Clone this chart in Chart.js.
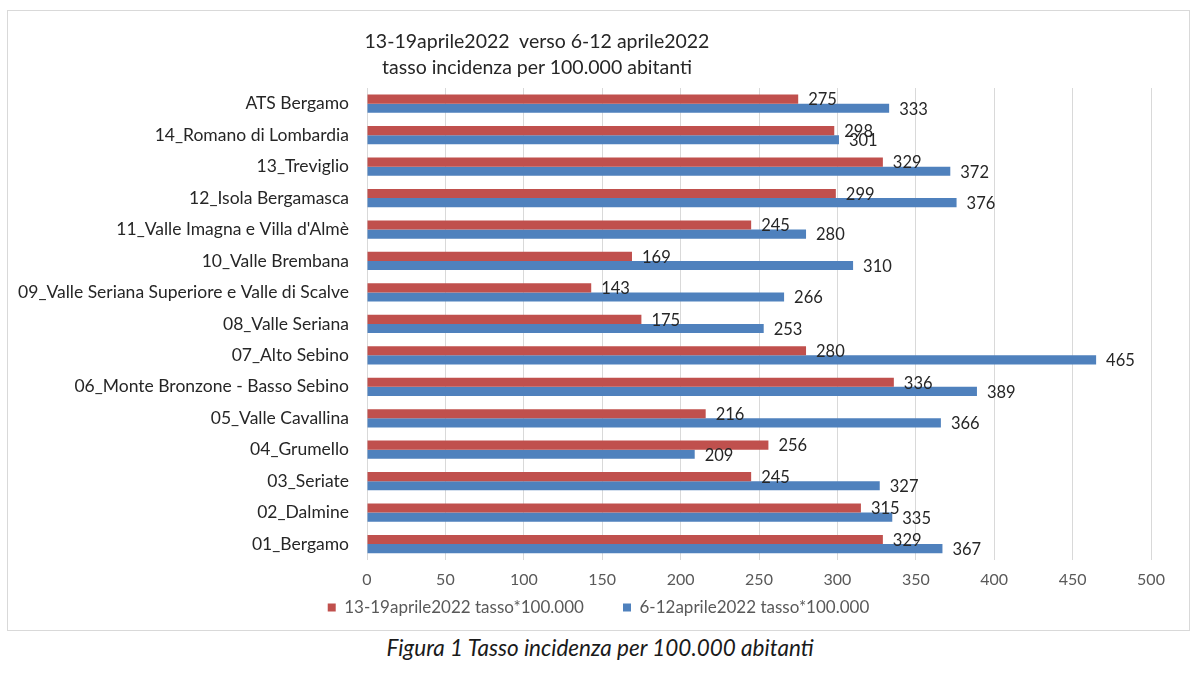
<!DOCTYPE html>
<html>
<head>
<meta charset="utf-8">
<script src="https://cdn.jsdelivr.net/npm/chart.js@4/dist/chart.umd.min.js"></script>
<style>
  body { margin: 0; background: #fff; font-family: Lato, "Open Sans", sans-serif; }
  #frame { position: absolute; left: 7px; top: 10px; width: 1183px; height: 621px; border: 1px solid #d9d9d9; box-sizing: border-box; }
  #title { position: absolute; left: 317px; width: 440px; top: 28px; text-align: center; font-size: 19.5px; line-height: 26px; color: #262626; }
  #caption { position: absolute; left: 0; width: 1200px; top: 634px; text-align: center; font-style: italic; font-size: 22.5px; color: #1a1a1a; }
</style>
</head>
<body>
<div id="frame"><canvas id="chart"></canvas></div>
<div id="title">13-19aprile2022&nbsp; verso 6-12 aprile2022<br>tasso incidenza per 100.000 abitanti</div>
<div id="caption">Figura 1 Tasso incidenza per 100.000 abitanti</div>
<script>
// categorie dall'alto verso il basso
const categories = [
  'ATS Bergamo',
  '14_Romano di Lombardia',
  '13_Treviglio',
  '12_Isola Bergamasca',
  "11_Valle Imagna e Villa d'Almè",
  '10_Valle Brembana',
  '09_Valle Seriana Superiore e Valle di Scalve',
  '08_Valle Seriana',
  '07_Alto Sebino',
  '06_Monte Bronzone - Basso Sebino',
  '05_Valle Cavallina',
  '04_Grumello',
  '03_Seriate',
  '02_Dalmine',
  '01_Bergamo'
];
const week13_19 = [275, 298, 329, 299, 245, 169, 143, 175, 280, 336, 216, 256, 245, 315, 329];
const week6_12 = [333, 301, 372, 376, 280, 310, 266, 253, 465, 389, 366, 209, 327, 335, 367];
const xTicks = [0, 50, 100, 150, 200, 250, 300, 350, 400, 450, 500];

const FONT = 'Lato, "Open Sans", sans-serif';

// etichette valori alla fine delle barre
const valueLabels = {
  id: 'valueLabels',
  afterDatasetsDraw(chart) {
    const ctx = chart.ctx;
    ctx.save();
    ctx.font = '16.5px ' + FONT;
    ctx.fillStyle = '#262626';
    ctx.textBaseline = 'middle';
    ctx.textAlign = 'left';
    chart.data.datasets.forEach((ds, i) => {
      chart.getDatasetMeta(i).data.forEach((bar, j) => {
        ctx.fillText(ds.data[j], bar.x + 10, bar.y + 1);
      });
    });
    ctx.restore();
  }
};

// legenda centrata su tutta la larghezza (non solo fino al padding destro)
const centerLegend = {
  id: 'centerLegend',
  afterLayout(chart) {
    const lg = chart.legend;
    if (!lg) return;
    const shift = (chart.width - lg.right) / 2;
    lg.left += shift;
    lg.right += shift;
  }
};

new Chart(document.getElementById('chart'), {
  type: 'bar',
  data: {
    labels: categories,
    datasets: [
      { label: '13-19aprile2022 tasso*100.000', data: week13_19, backgroundColor: '#C0504D' },
      { label: '6-12aprile2022 tasso*100.000', data: week6_12, backgroundColor: '#4F81BD' }
    ]
  },
  options: {
    indexAxis: 'y',
    responsive: true,
    maintainAspectRatio: false,
    animation: false,
    categoryPercentage: 0.58,
    barPercentage: 1.0,
    layout: { padding: { top: 77, right: 38, left: 0, bottom: 4 } },
    scales: {
      x: {
        min: 0,
        max: 500,
        afterBuildTicks: (axis) => { axis.ticks = xTicks.map(v => ({ value: v })); },
        grid: { color: '#d9d9d9', drawTicks: false },
        border: { display: false },
        ticks: { color: '#595959', font: { size: 16, family: FONT }, padding: 10 }
      },
      y: {
        afterFit: (axis) => { axis.width = 359; },
        grid: { display: false },
        border: { display: true, color: '#d9d9d9' },
        ticks: { color: '#262626', font: { size: 17.5, family: FONT }, padding: 10 }
      }
    },
    plugins: {
      legend: {
        position: 'bottom',
        labels: {
          boxWidth: 8, boxHeight: 8, color: '#595959', font: { size: 17, family: FONT }, padding: 0,
          generateLabels: (chart) => {
            const items = Chart.defaults.plugins.legend.labels.generateLabels(chart);
            items[0].text += '\u00a0\u00a0\u00a0\u00a0\u00a0\u00a0\u00a0\u00a0\u00a0';
            return items;
          }
        }
      },
      tooltip: { enabled: false }
    }
  },
  plugins: [valueLabels, centerLegend]
});
</script>
</body>
</html>
